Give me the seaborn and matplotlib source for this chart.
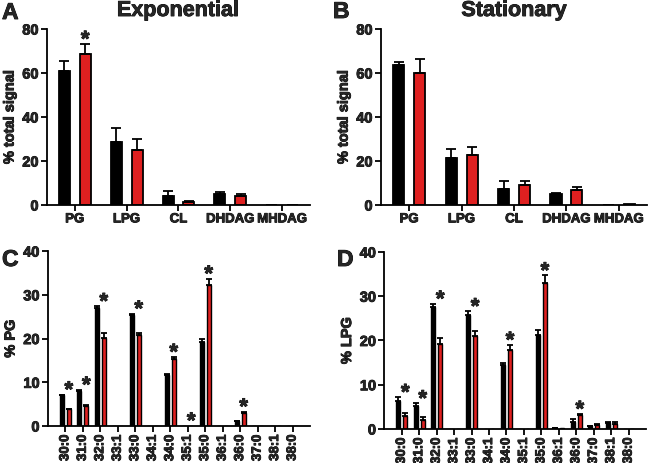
import numpy as np
import pandas as pd
import matplotlib
matplotlib.use("Agg")
import matplotlib.pyplot as plt
import matplotlib.patheffects as pe
import seaborn as sns

# lipid classes (panels A, B)
classes = ['PG', 'LPG', 'CL', 'DHDAG', 'MHDAG']
exp_black = [60.8, 28.5, 4.2, 5.2, 0.2]
exp_black_err = [4.5, 6.4, 2.0, 0.9, 0.0]
exp_red = [68.8, 24.8, 1.4, 4.3, 0.0]
exp_red_err = [4.4, 5.0, 0.6, 0.6, 0.0]
exp_stars = [1, 0, 0, 0, 0]

stat_black = [63.8, 21.2, 7.2, 4.9, 0.0]
stat_black_err = [1.4, 4.3, 3.9, 0.4, 0.0]
stat_red = [60.0, 22.7, 8.9, 6.6, 0.3]
stat_red_err = [6.2, 3.5, 1.8, 1.5, 0.0]
stat_stars = [0, 0, 0, 0, 0]

# acyl species (panels C, D)
species = ['30:0', '31:0', '32:0', '33:1', '33:0', '34:1', '34:0',
           '35:1', '35:0', '36:1', '36:0', '37:0', '38:1', '38:0']
pg_black = [7.0, 8.0, 27.0, 0.1, 25.5, 0.0, 11.7, 0.1, 19.3, 0.0, 1.1, 0.0, 0.0, 0.0]
pg_black_err = [0.2, 0.3, 0.4, 0, 0.2, 0, 0.1, 0, 0.6, 0, 0.1, 0, 0, 0]
pg_red = [3.8, 4.5, 20.1, 0.0, 20.8, 0.0, 15.3, 0.1, 32.2, 0.0, 3.0, 0.0, 0.0, 0.0]
pg_red_err = [0.2, 0.3, 1.1, 0, 0.5, 0, 0.5, 0, 1.5, 0, 0.3, 0, 0, 0]
pg_stars = [1, 1, 1, 0, 1, 0, 1, 1, 1, 0, 1, 0, 0, 0]

lpg_black = [6.4, 5.3, 27.6, 0.1, 25.8, 0.05, 14.5, 0.1, 21.3, 0.2, 1.6, 0.6, 1.3, 0.0]
lpg_black_err = [0.8, 0.5, 0.7, 0, 0.8, 0, 0.4, 0, 1.0, 0.1, 0.6, 0.1, 0.2, 0]
lpg_red = [2.9, 2.0, 19.2, 0.0, 21.0, 0.0, 17.9, 0.1, 33.0, 0.2, 3.2, 0.8, 1.1, 0.1]
lpg_red_err = [0.7, 0.6, 1.3, 0, 1.2, 0, 1.1, 0, 1.7, 0, 0.2, 0.3, 0.4, 0]
lpg_stars = [1, 1, 1, 0, 1, 0, 1, 0, 1, 0, 1, 0, 0, 0]

sns.set_style('ticks')
plt.rcParams['font.family'] = ['Liberation Sans', 'DejaVu Sans']
plt.rcParams['font.weight'] = 'bold'
plt.rcParams['axes.labelweight'] = 'bold'


def bar_panel(ax, cats, black, black_err, red, red_err, stars, gap, lw, cap,
              ylim, yticks, ylabel, rot):
    n = len(cats)
    df = pd.DataFrame({'cat': cats * 2, 'val': black + red,
                       'grp': ['black'] * n + ['red'] * n})
    sns.barplot(data=df, x='cat', y='val', hue='grp',
                palette={'black': 'black', 'red': '#ff0000'},
                errorbar=None, gap=gap, edgecolor='black', linewidth=lw,
                legend=False, ax=ax)
    for cont, errs in zip(ax.containers, [black_err, red_err]):
        xs = np.array([p.get_x() + p.get_width() / 2 for p in cont])
        hs = np.array([p.get_height() for p in cont])
        errs = np.array(errs)
        m = errs > 0
        ax.errorbar(xs[m], hs[m], yerr=[np.zeros(m.sum()), errs[m]], fmt='none',
                    ecolor='black', elinewidth=1.3, capsize=cap, capthick=1.3)
    red_bars = list(ax.containers[1])
    for i, s in enumerate(stars):
        if s:
            top = max(black[i] + black_err[i], red[i] + red_err[i])
            p = red_bars[i]
            ax.annotate('*', (p.get_x() + p.get_width() / 2, top),
                        xytext=(0, -1.5), textcoords='offset points',
                        ha='center', va='baseline', fontsize=16,
                        fontweight='bold')
    ax.set_ylim(*ylim)
    ax.set_yticks(yticks)
    ax.set_yticklabels([str(v) for v in yticks], fontsize=10.5, fontweight='bold')
    ax.set_xticks(range(n))
    ax.set_xticklabels(cats, fontsize=9.5, fontweight='bold', rotation=rot)
    ax.set_xlabel('')
    ax.set_ylabel(ylabel, fontsize=10.5, fontweight='bold', labelpad=4)
    sns.despine(ax=ax)
    for sp in ['left', 'bottom']:
        ax.spines[sp].set_linewidth(1.3)
        ax.spines[sp].set_color('black')
    ax.tick_params(direction='out', length=4, width=1.3, color='black', pad=2)


fig = plt.figure(figsize=(6.5, 4.64), dpi=100)
axA = fig.add_axes([0.0723, 0.556, 0.4046, 0.3793])
axB = fig.add_axes([0.5862, 0.556, 0.4092, 0.3793])
axC = fig.add_axes([0.0738, 0.0797, 0.4030, 0.3770])
axD = fig.add_axes([0.5915, 0.0733, 0.4023, 0.3815])

bar_panel(axA, classes, exp_black, exp_black_err, exp_red, exp_red_err,
          exp_stars, 0.47, 1.3, 3.5, (0, 80), [0, 20, 40, 60, 80], '% total signal', 0)
bar_panel(axB, classes, stat_black, stat_black_err, stat_red, stat_red_err,
          stat_stars, 0.47, 1.3, 3.5, (0, 80), [0, 20, 40, 60, 80], '% total signal', 0)
bar_panel(axC, species, pg_black, pg_black_err, pg_red, pg_red_err,
          pg_stars, 0.45, 1.0, 2, (0, 40), [0, 10, 20, 30, 40], '% PG', 90)
bar_panel(axD, species, lpg_black, lpg_black_err, lpg_red, lpg_red_err,
          lpg_stars, 0.45, 1.0, 2, (0, 40), [0, 10, 20, 30, 40], '% LPG', 90)

fig.text(178 / 650, 1 - 17 / 464, 'Exponential', ha='center', va='baseline',
         fontsize=15.5, fontweight='bold')
fig.text(514 / 650, 1 - 17 / 464, 'Stationary', ha='center', va='baseline',
         fontsize=15.5, fontweight='bold')
for letter, x, y in [('A', 2, 20), ('B', 333, 19), ('C', 2, 267), ('D', 337, 267)]:
    fig.text(x / 650, 1 - y / 464, letter, ha='left', va='baseline',
             fontsize=16.5, fontweight='bold')

# thicken all text a little to match the heavy print-style lettering
for t in fig.findobj(matplotlib.text.Text):
    t.set_path_effects([pe.withStroke(linewidth=0.6, foreground='black')])

fig.savefig('out.png', dpi=100)
